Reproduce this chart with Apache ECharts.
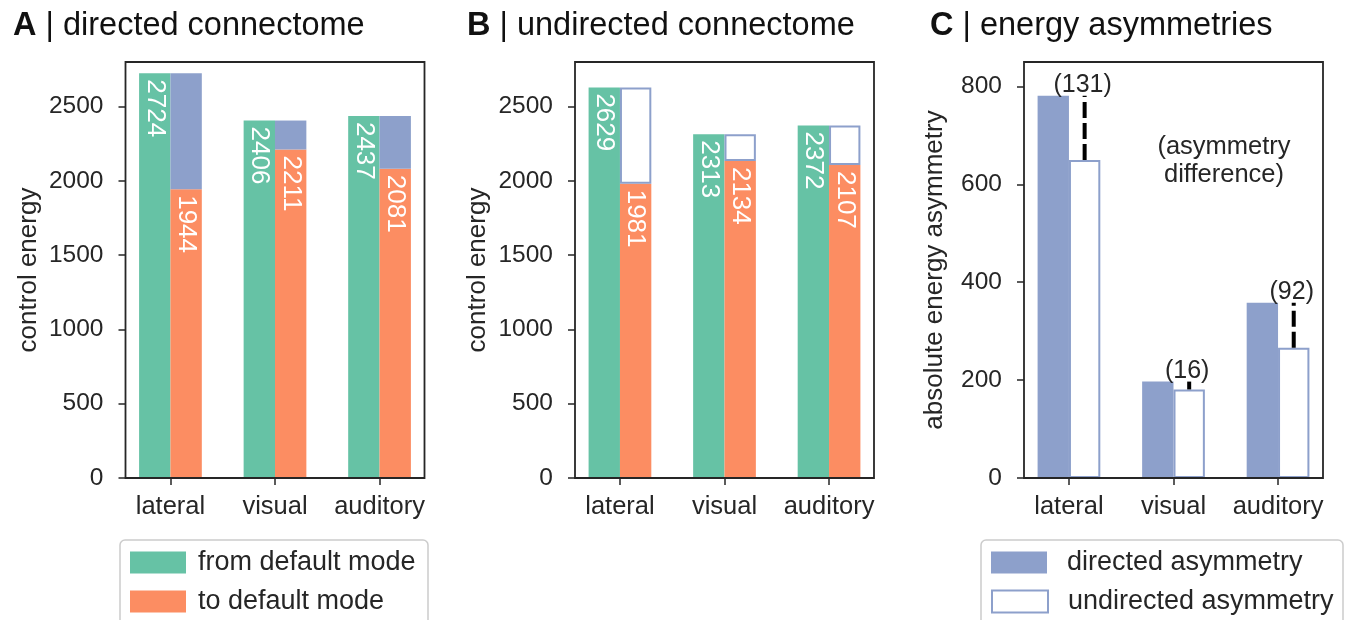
<!DOCTYPE html>
<html>
<head>
<meta charset="utf-8">
<script src="https://cdn.jsdelivr.net/npm/echarts@6/dist/echarts.min.js"></script>
<style>
  html, body { margin: 0; padding: 0; background: #fff; }
  #chart { width: 1345px; height: 620px; }
</style>
</head>
<body>
<div id="chart"></div>
<script>
// ---- data -------------------------------------------------------------
const categories = ['lateral', 'visual', 'auditory'];

// A: directed connectome, control energy from / to the default mode
const directedFrom = [2724, 2406, 2437];
const directedTo   = [1944, 2211, 2081];

// B: undirected connectome, control energy from / to the default mode
const undirectedFrom = [2629, 2313, 2372];
const undirectedTo   = [1981, 2134, 2107];

// C: absolute energy asymmetry
const asymDirected   = [781, 197, 358];
const asymUndirected = [650, 181, 266];

const energyTicks = [0, 500, 1000, 1500, 2000, 2500];
const asymTicks   = [0, 200, 400, 600, 800];

// ---- styling / layout -------------------------------------------------
const FONT = '"Liberation Sans", Arial, Helvetica, sans-serif';
const INK = '#262626';
const GREEN = '#66c2a5', ORANGE = '#fc8d62', BLUE = '#8da0cb';

const frameTop = 62, frameH = 416, frameW = 299;
const frameLefts = [125.5, 575, 1024];
// x range runs from -0.43 to 2.43 category units
const unit = frameW / 2.86;
const inset = 0.07 * unit;

function grid(i) {
  return { left: frameLefts[i] - inset, top: frameTop, width: 3 * unit, height: frameH,
           containLabel: false, outerBoundsMode: 'none' };
}
function xAxis(i) {
  return {
    type: 'category', gridIndex: i, data: categories,
    axisLine: { show: false },
    axisTick: { show: true, alignWithLabel: true, length: 7, lineStyle: { color: INK, width: 1.5 } },
    axisLabel: { interval: 0, hideOverlap: false, margin: 16, fontSize: 25.5, color: INK, fontFamily: FONT },
    splitLine: { show: false }
  };
}
function yAxis(i, max, ticks, name, gap) {
  return {
    type: 'value', gridIndex: i, min: 0, max: max, offset: -inset,
    axisLine: { show: false },
    axisTick: { show: true, length: 7, customValues: ticks, lineStyle: { color: INK, width: 1.5 } },
    axisLabel: { customValues: ticks, formatter: v => String(v), margin: 22,
                 fontSize: 24.5, color: INK, fontFamily: FONT },
    splitLine: { show: false },
    name: name, nameLocation: 'middle', nameGap: gap,
    nameTextStyle: { fontSize: 26, color: INK, fontFamily: FONT }
  };
}

const inBarLabel = {
  show: true, position: 'insideTop', distance: 6, rotate: -90,
  align: 'left', verticalAlign: 'middle',
  color: '#fff', fontSize: 26, fontFamily: FONT
};

function energySeries(i, from, to, topStyle, tag) {
  return [
    { type: 'bar', name: 'from default mode', xAxisIndex: i, yAxisIndex: i, data: from,
      barWidth: '30%', barGap: '0%', itemStyle: { color: GREEN }, label: inBarLabel },
    { type: 'bar', name: 'to default mode', xAxisIndex: i, yAxisIndex: i, data: to, stack: tag,
      barWidth: '30%', barGap: '0%', itemStyle: { color: ORANGE }, label: inBarLabel },
    { type: 'bar', name: tag + ' remainder', xAxisIndex: i, yAxisIndex: i,
      data: from.map((v, k) => v - to[k]), stack: tag,
      barWidth: '30%', barGap: '0%', itemStyle: topStyle }
  ];
}

const asymPairs = categories.map((c, k) => [k, asymDirected[k], asymUndirected[k]]);

function title(letter, text, left) {
  return {
    text: '{b|' + letter + '} | ' + text, left: left, top: 10, padding: 0,
    textStyle: { fontSize: 32.5, fontWeight: 'normal', color: '#111', fontFamily: FONT,
      rich: { b: { fontSize: 32.5, fontWeight: 'bold', color: '#111', fontFamily: FONT } } }
  };
}

// one legend entry per row; the rounded frame around them is drawn as a graphic
function legendRow(name, left, top, textPad) {
  return {
    data: [name], orient: 'vertical', left: left, top: top, icon: 'rect',
    itemWidth: 56, itemHeight: 22, padding: 0, selectedMode: false,
    textStyle: { fontSize: 27, color: INK, fontFamily: FONT, padding: [0, 0, 0, textPad] }
  };
}
const legendBoxes = [
  { x: 120, width: 308 },
  { x: 981, width: 362 }
];

const chart = echarts.init(document.getElementById('chart'), null, { renderer: 'canvas' });
chart.setOption({
  animation: false,
  backgroundColor: '#fff',
  title: [
    title('A', 'directed connectome', 13),
    title('B', 'undirected connectome', 467),
    title('C', 'energy asymmetries', 930)
  ],
  legend: [
    legendRow('from default mode', 130, 549, 7),
    legendRow('to default mode', 130, 588, 7),
    legendRow('directed asymmetry', 991, 549, 15),
    legendRow('undirected asymmetry', 991, 588, 15)
  ],
  grid: [grid(0), grid(1), grid(2)],
  xAxis: [xAxis(0), xAxis(1), xAxis(2)],
  yAxis: [
    yAxis(0, 2800, energyTicks, 'control energy', 84),
    yAxis(1, 2800, energyTicks, 'control energy', 84),
    yAxis(2, 850, asymTicks, 'absolute energy asymmetry', 76)
  ],
  series: [
    ...energySeries(0, directedFrom, directedTo, { color: BLUE }, 'directed'),
    ...energySeries(1, undirectedFrom, undirectedTo,
                    { color: '#fff', borderColor: BLUE, borderWidth: 2 }, 'undirected'),
    { type: 'bar', name: 'directed asymmetry', xAxisIndex: 2, yAxisIndex: 2, data: asymDirected,
      barWidth: '30%', barGap: '0%', itemStyle: { color: BLUE } },
    { type: 'bar', name: 'undirected asymmetry', xAxisIndex: 2, yAxisIndex: 2, data: asymUndirected,
      barWidth: '30%', barGap: '0%', itemStyle: { color: '#fff', borderColor: BLUE, borderWidth: 2 } },
    {
      // dashed gap between the two asymmetries, annotated with its size
      type: 'custom', xAxisIndex: 2, yAxisIndex: 2, data: asymPairs, z: 10,
      renderItem: function (params, api) {
        const k = api.value(0), hi = api.value(1), lo = api.value(2);
        const band = api.size([1, 0])[0];
        const x = api.coord([k, 0])[0] + band * 0.15;
        const yHi = api.coord([k, hi])[1];
        const yLo = api.coord([k, lo])[1];
        return {
          type: 'group',
          children: [
            { type: 'line', shape: { x1: x, y1: yLo, x2: x, y2: yHi },
              style: { stroke: '#000', lineWidth: 4, lineDash: [16, 5] } },
            { type: 'text', x: x - 2, y: yHi + 2,
              style: { text: '(' + Math.round(hi - lo) + ')', fill: INK, fontSize: 25,
                       fontFamily: FONT, align: 'center', verticalAlign: 'bottom' } }
          ]
        };
      }
    }
  ],
  graphic: [
    ...frameLefts.map(L => ({
      type: 'rect', silent: true, z: 50,
      shape: { x: L, y: frameTop, width: frameW, height: frameH },
      style: { fill: 'none', stroke: INK, lineWidth: 1.8 }
    })),
    ...legendBoxes.map(b => ({
      type: 'rect', silent: true, z: -1,
      shape: { x: b.x, y: 540, width: b.width, height: 100, r: 5 },
      style: { fill: '#fff', stroke: '#cccccc', lineWidth: 1.5 }
    })),
    { type: 'text', silent: true, z: 50, x: 1224, y: 161,
      style: { text: '(asymmetry\ndifference)', fill: INK, fontSize: 25.5, fontFamily: FONT,
               align: 'center', verticalAlign: 'middle', lineHeight: 28 } }
  ]
});
</script>
</body>
</html>
